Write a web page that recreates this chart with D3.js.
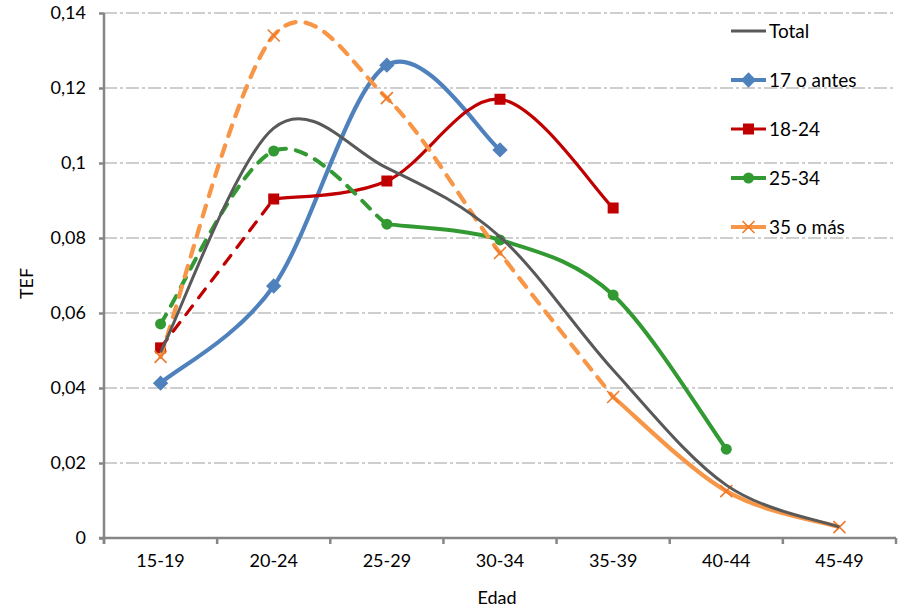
<!DOCTYPE html>
<html>
<head>
<meta charset="utf-8">
<script src="https://cdn.jsdelivr.net/npm/d3@7"></script>
<style>
  body { margin:0; background:#fff; }
  text { font-family: Lato, "Open Sans", sans-serif; fill:#000; }
</style>
</head>
<body>
<script>
// data
var ages = ['15-19','20-24','25-29','30-34','35-39','40-44','45-49'];
var yTicks = [0, 0.02, 0.04, 0.06, 0.08, 0.1, 0.12, 0.14];
var total     = [0.0495, 0.1093, 0.0987, 0.0803, 0.0448, 0.0141, 0.0029];
var antes17   = [0.0413, 0.0672, 0.1261, 0.1035];
var g18_24    = [0.0507, 0.0904, 0.0952, 0.1170, 0.0880];
var g25_34    = [0.0571, 0.1032, 0.0837, 0.0795, 0.0648, 0.0237];
var mas35     = [0.0483, 0.1340, 0.1173, 0.0760, 0.0376, 0.0125, 0.0029];
var names = ['Total','17 o antes','18-24','25-34','35 o más'];

var W = 910, H = 613;
var m = {l:104, r:14, t:13, b:75};
var w = W - m.l - m.r, h = H - m.t - m.b;

var svg = d3.select('body').append('svg')
    .attr('width', W).attr('height', H);

// styles for each series (dashed = number of first segments drawn dashed)
var series = [
  {name:names[1], values:antes17, color:'#4F81BD', width:4.2, marker:'diamond', dashed:0},
  {name:names[2], values:g18_24,  color:'#C00000', width:3.2, marker:'square',  dashed:1},
  {name:names[3], values:g25_34,  color:'#339933', width:4,   marker:'circle',  dashed:2},
  {name:names[4], values:mas35,   color:'#F79646', width:4.2, marker:'x',       dashed:4},
  {name:names[0], values:total,   color:'#595959', width:3,   marker:null,      dashed:0}
];

var x = d3.scaleBand().domain(ages).range([0, w]);
var y = d3.scaleLinear().domain([0, 0.14]).range([h, 0]);

var plot = svg.append('g').attr('transform','translate(' + m.l + ',' + m.t + ')');

// grid
plot.append('g').selectAll('line')
    .data(yTicks.slice(1))
    .enter().append('line')
    .attr('x1', 0).attr('x2', w)
    .attr('y1', function(d){return y(d)}).attr('y2', function(d){return y(d)})
    .attr('stroke','#BFBFBF').attr('stroke-width',1.3)
    .attr('stroke-dasharray','13,3,3,3');

// axes
var axisY = d3.axisLeft(y).tickValues(yTicks).tickSize(5).tickPadding(13)
    .tickFormat(function(d){ return d === 0 ? '0' : String(d).replace('.', ','); });
var gy = plot.append('g').call(axisY);
gy.select('.domain').remove();
gy.selectAll('line').attr('stroke','#868686').attr('stroke-width',2.5);
gy.selectAll('text').style('font-size','18px').attr('font-family','Lato');

var axisX = d3.axisBottom(x).tickSize(0).tickPadding(16);
var gx = plot.append('g').attr('transform','translate(0,' + h + ')').call(axisX);
gx.select('.domain').remove();
gx.selectAll('text').style('font-size','18px').attr('font-family','Lato');

// x boundary ticks
var bounds = ages.map(function(d){return x(d)}).concat([w]);
plot.append('g').selectAll('line').data(bounds).enter().append('line')
    .attr('x1', function(d){return d}).attr('x2', function(d){return d})
    .attr('y1', h).attr('y2', h + 6)
    .attr('stroke','#868686').attr('stroke-width',2.5);

plot.append('line').attr('x1',0).attr('x2',0).attr('y1',0).attr('y2',h + 6)
    .attr('stroke','#868686').attr('stroke-width',2.5);
plot.append('line').attr('x1',-5).attr('x2',w).attr('y1',h).attr('y2',h)
    .attr('stroke','#868686').attr('stroke-width',2.5);

// axis titles
svg.append('text').attr('transform','translate(33,' + (m.t + h/2 + 8) + ') rotate(-90)')
    .attr('text-anchor','middle').style('font-size','18px').text('TEF');
svg.append('text').attr('x', m.l + w/2 - 3).attr('y', 604)
    .attr('text-anchor','middle').style('font-size','18px').text('Edad');

// smoothed segments (catmull-rom like excel)
function pts(vals){
  return vals.map(function(v,i){ return [x(ages[i]) + x.bandwidth()/2, y(v)]; });
}
function smoothPath(p){
  var d = 'M' + p[0];
  for(var i=0;i<p.length-1;i++){
    var p0 = p[Math.max(i-1,0)], p1 = p[i], p2 = p[i+1], p3 = p[Math.min(i+2,p.length-1)];
    var c1 = [p1[0] + (p2[0]-p0[0])/6, p1[1] + (p2[1]-p0[1])/6];
    var c2 = [p2[0] - (p3[0]-p1[0])/6, p2[1] - (p3[1]-p1[1])/6];
    d += 'C' + c1 + ' ' + c2 + ' ' + p2;
  }
  return d;
}

function drawMarker(g, type, cx, cy, color){
  if(type === 'diamond'){
    g.append('path').attr('d', d3.symbol().type(d3.symbolDiamond2).size(150)())
      .attr('transform','translate(' + cx + ',' + cy + ')').attr('fill', color);
  } else if(type === 'square'){
    g.append('rect').attr('x', cx-5.5).attr('y', cy-5.5).attr('width',11).attr('height',11)
      .attr('fill', color);
  } else if(type === 'circle'){
    g.append('circle').attr('cx', cx).attr('cy', cy).attr('r', 5.5).attr('fill', color);
  } else if(type === 'x'){
    g.append('path').attr('d','M-6,-6L6,6M-6,6L6,-6')
      .attr('transform','translate(' + cx + ',' + cy + ')')
      .attr('stroke','#EE7A2A').attr('stroke-width',1.6).attr('fill','none');
  }
}

series.forEach(function(s){
  var g = plot.append('g');
  var p = pts(s.values);
  if(s.dashed > 0){
    g.append('path').attr('d', smoothPath(p.slice(0, s.dashed + 1)))
      .attr('fill','none').attr('stroke', s.color).attr('stroke-width', s.width)
      .attr('stroke-linecap','round').attr('stroke-dasharray', '11,10');
  }
  g.append('path').attr('d', smoothPath(p.slice(s.dashed)))
    .attr('fill','none').attr('stroke', s.color).attr('stroke-width', s.width);
  p.forEach(function(q){ drawMarker(g, s.marker, q[0], q[1], s.color); });
});

// legend
var legendOrder = [series[4], series[0], series[1], series[2], series[3]];
var leg = svg.append('g').attr('transform','translate(731,31)');
legendOrder.forEach(function(s, i){
  var g = leg.append('g').attr('transform','translate(0,' + (i*49) + ')');
  g.append('line').attr('x1',0).attr('x2',35).attr('y1',0).attr('y2',0)
    .attr('stroke', s.color).attr('stroke-width', s.width);
  drawMarker(g, s.marker, 17.5, 0, s.color);
  g.append('text').attr('x', 38).attr('y', 7).style('font-size','19px').text(s.name);
});
</script>
</body>
</html>
